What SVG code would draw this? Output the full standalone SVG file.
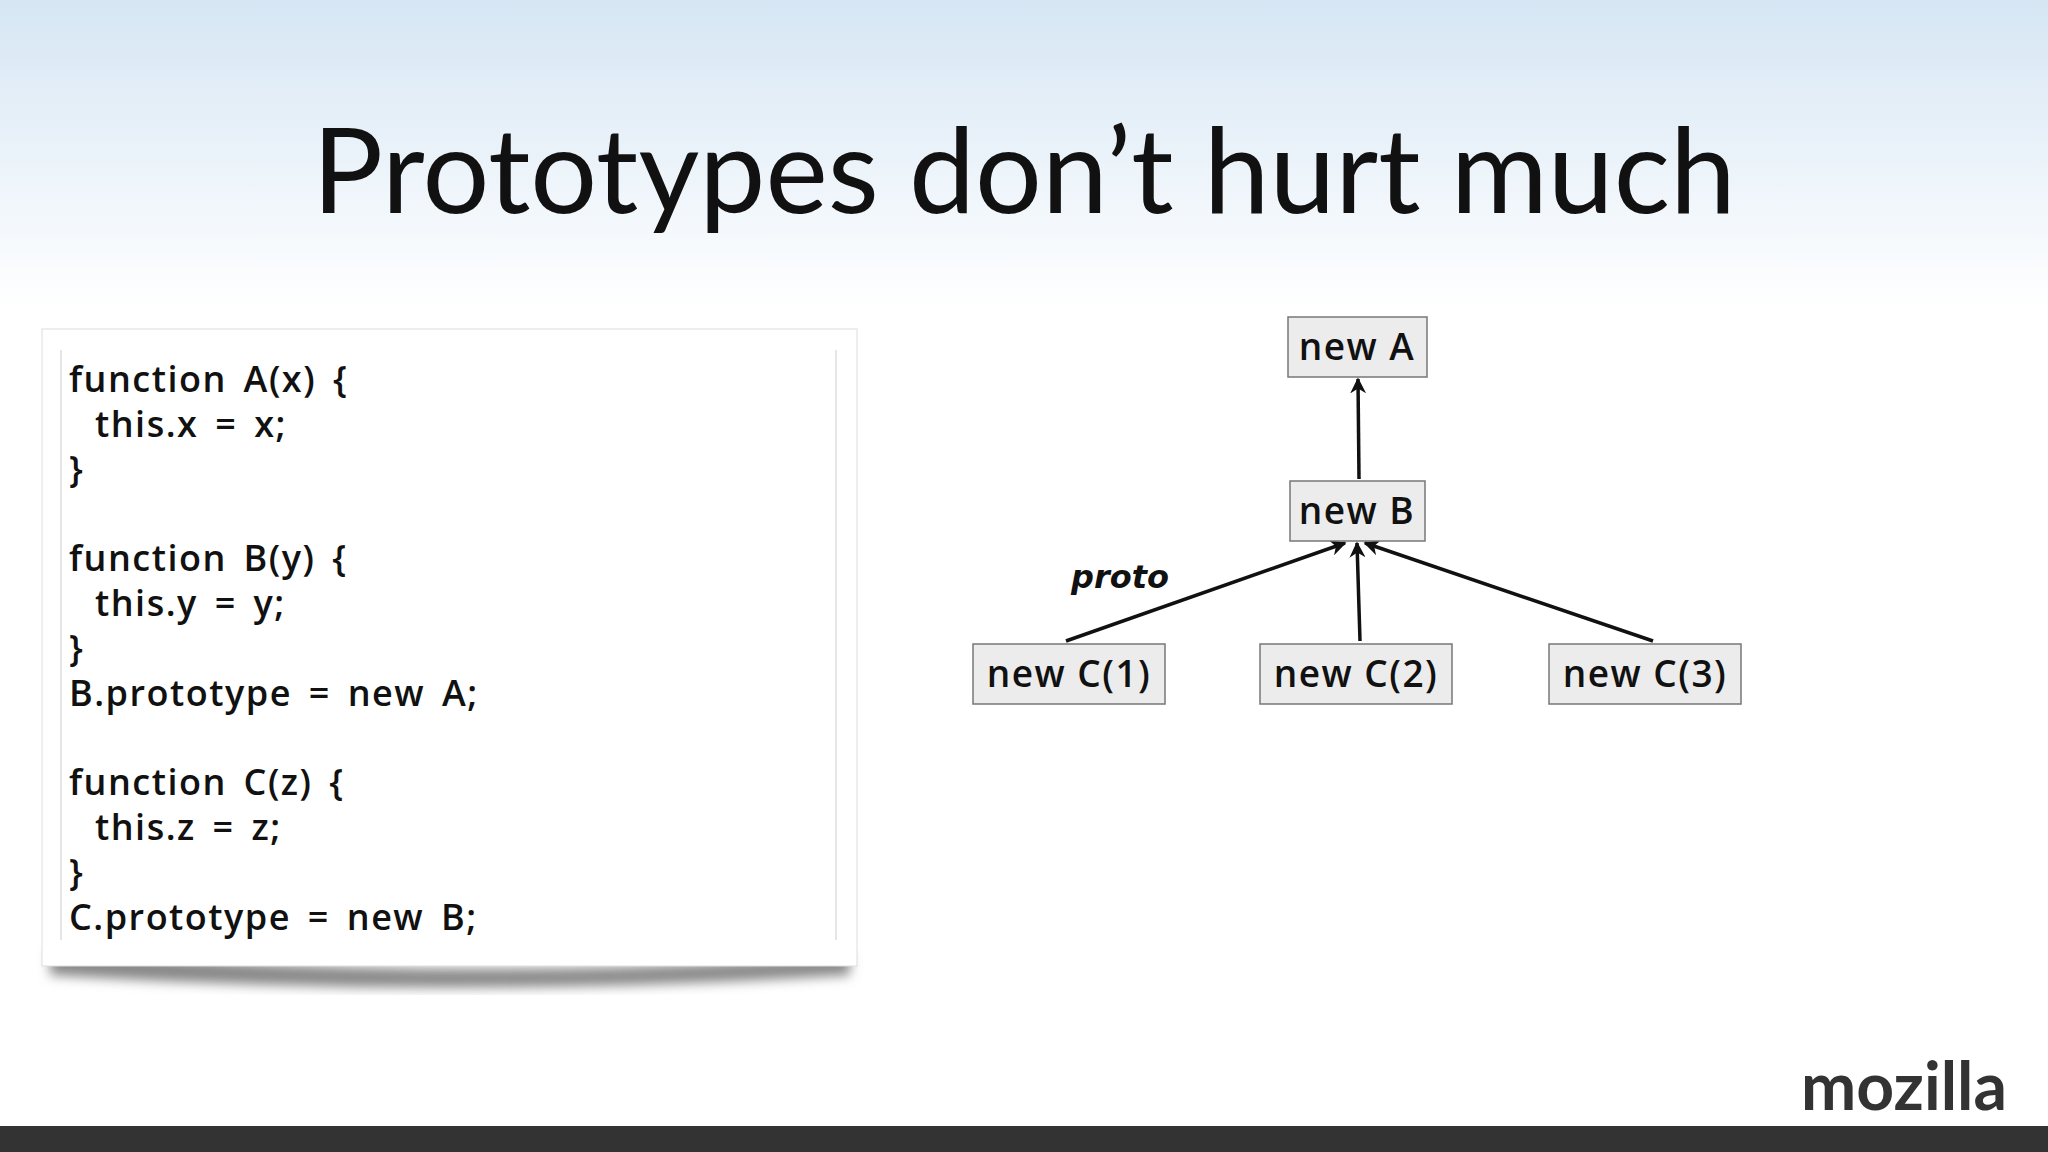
<svg xmlns="http://www.w3.org/2000/svg" width="2048" height="1152" viewBox="0 0 2048 1152">
<defs>
<linearGradient id="bg" x1="0" y1="0" x2="0" y2="1">
<stop offset="0" stop-color="#d6e6f4"/><stop offset="1" stop-color="#ffffff"/>
</linearGradient>
<filter id="sh" x="-10%" y="-10%" width="120%" height="130%"><feGaussianBlur stdDeviation="6"/></filter>
<marker id="ah" viewBox="0 0 10 10" refX="9" refY="5" markerWidth="16" markerHeight="16" orient="auto" markerUnits="userSpaceOnUse"><path d="M0,0 L10,5 L0,10 L3,5 z" fill="#111"/></marker>
<style>
.code{font-family:"Open Sans","DejaVu Sans",sans-serif;font-weight:600;font-size:36px;letter-spacing:1.5px;word-spacing:6px;fill:#111}
.node rect{fill:#ececec;stroke:#777;stroke-width:1.5}
.node text{font-family:"Open Sans","DejaVu Sans",sans-serif;font-weight:600;font-size:37px;letter-spacing:1.5px;fill:#111;text-anchor:middle}
.conn line{stroke:#111;stroke-width:3.5;marker-end:url(#ah)}
</style>
</defs>
<rect width="2048" height="1152" fill="#fff"/>
<rect width="2048" height="310" fill="url(#bg)"/>
<text x="1024" y="213" font-family="Lato,'Open Sans',sans-serif" font-size="118" text-anchor="middle" fill="#111">Prototypes don’t hurt much</text>
<g id="codebox">
<path d="M50,950 Q450,985 850,955 L850,975 Q450,1000 50,975 z" fill="#888" filter="url(#sh)"/>
<rect x="42" y="329" width="815" height="637" fill="#fff" stroke="#ddd"/>
<line x1="61" y1="350" x2="61" y2="940" stroke="#ccc"/>
<line x1="836" y1="350" x2="836" y2="940" stroke="#ccc"/>
<text class="code" x="69" y="392">function A(x) {</text>
<text class="code" x="95" y="437">this.x = x;</text>
<text class="code" x="69" y="482">}</text>
<text class="code" x="69" y="571">function B(y) {</text>
<text class="code" x="95" y="616">this.y = y;</text>
<text class="code" x="69" y="661">}</text>
<text class="code" x="69" y="706">B.prototype = new A;</text>
<text class="code" x="69" y="795">function C(z) {</text>
<text class="code" x="95" y="840">this.z = z;</text>
<text class="code" x="69" y="885">}</text>
<text class="code" x="69" y="930">C.prototype = new B;</text>
</g>
<g class="conn" id="connectors">
<line x1="1359" y1="479" x2="1358" y2="379"/>
<line x1="1066" y1="641" x2="1345" y2="543"/>
<line x1="1360" y1="641" x2="1357" y2="543"/>
<line x1="1653" y1="641" x2="1365" y2="543"/>
</g>
<text x="1071" y="588" font-family="'DejaVu Sans',sans-serif" font-size="32" font-style="italic" font-weight="bold" fill="#111">proto</text>
<g class="node" id="nA"><rect x="1288" y="317" width="139" height="60"/><text x="1357" y="360">new A</text></g>
<g class="node" id="nB"><rect x="1290" y="481" width="135" height="60"/><text x="1357" y="524">new B</text></g>
<g class="node" id="nC1"><rect x="973" y="644" width="192" height="60"/><text x="1069" y="687">new C(1)</text></g>
<g class="node" id="nC2"><rect x="1260" y="644" width="192" height="60"/><text x="1356" y="687">new C(2)</text></g>
<g class="node" id="nC3"><rect x="1549" y="644" width="192" height="60"/><text x="1645" y="687">new C(3)</text></g>
<text x="2007" y="1110" font-family="Lato,'Open Sans',sans-serif" font-size="66" font-weight="bold" text-anchor="end" fill="#333">mozilla</text>
<rect x="0" y="1126" width="2048" height="26" fill="#333"/>
</svg>
